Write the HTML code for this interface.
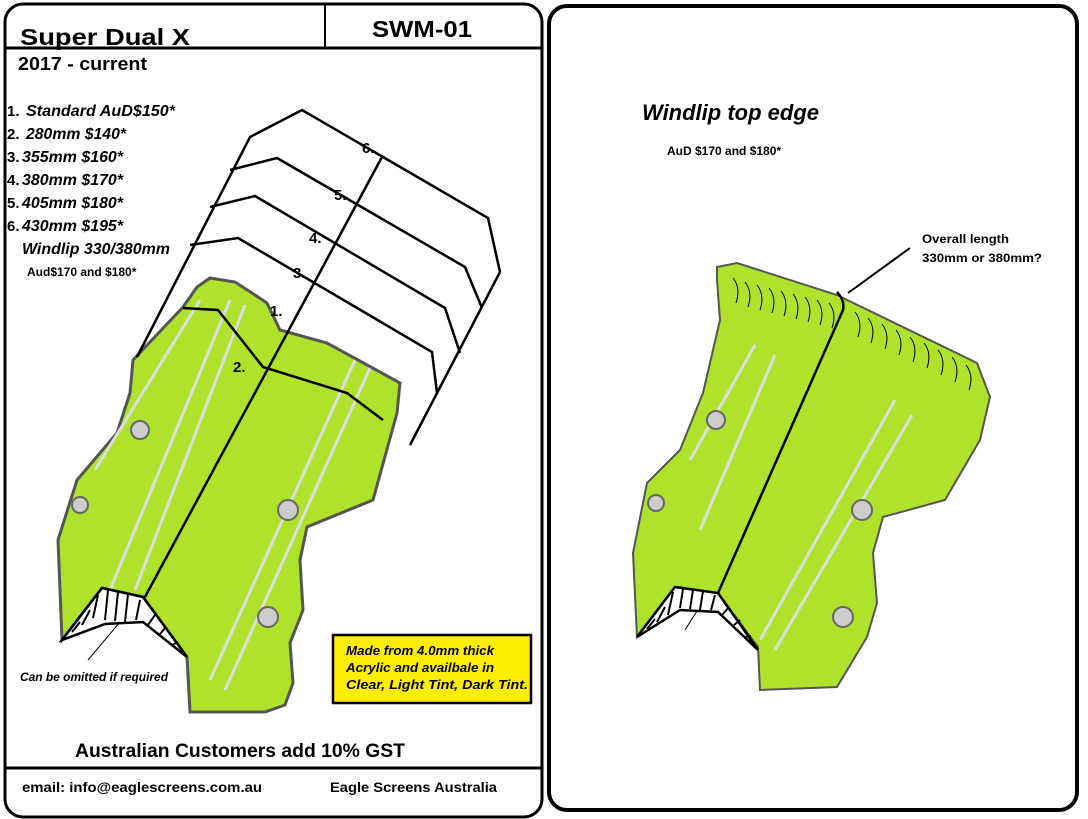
<!DOCTYPE html>
<html><head><meta charset="utf-8"><style>
html,body{margin:0;padding:0;background:#fff;}
svg{display:block}
text{font-family:"Liberation Sans",Arial,sans-serif;font-weight:bold;fill:#000}
.it{font-style:italic}
</style></head><body>
<svg width="1088" height="819" viewBox="0 0 1088 819" xmlns="http://www.w3.org/2000/svg">
<rect x="5" y="4" width="537" height="813" rx="18" fill="#fff" stroke="#000" stroke-width="3"/>
<line x1="5" y1="48" x2="542" y2="48" stroke="#000" stroke-width="3"/>
<line x1="325" y1="4" x2="325" y2="48" stroke="#000" stroke-width="2"/>
<line x1="5" y1="768" x2="542" y2="768" stroke="#000" stroke-width="3"/>
<rect x="549" y="6" width="528" height="804" rx="18" fill="#fff" stroke="#000" stroke-width="4"/>

<text x="20" y="45" font-size="23" textLength="170" lengthAdjust="spacingAndGlyphs">Super Dual X</text>
<text x="372" y="37" font-size="23" textLength="100" lengthAdjust="spacingAndGlyphs">SWM-01</text>
<text x="18" y="70" font-size="18" textLength="129" lengthAdjust="spacingAndGlyphs">2017 - current</text>
<g font-size="16">
<text x="7" y="116" font-size="15" font-weight="normal">1.</text><text x="26" y="116" class="it" textLength="149" lengthAdjust="spacingAndGlyphs">Standard AuD$150*</text>
<text x="7" y="139" font-size="15" font-weight="normal">2.</text><text x="26" y="139" class="it" textLength="100" lengthAdjust="spacingAndGlyphs">280mm $140*</text>
<text x="7" y="162" font-size="15" font-weight="normal">3.</text><text x="22" y="162" class="it" textLength="101" lengthAdjust="spacingAndGlyphs">355mm $160*</text>
<text x="7" y="185" font-size="15" font-weight="normal">4.</text><text x="22" y="185" class="it" textLength="101" lengthAdjust="spacingAndGlyphs">380mm $170*</text>
<text x="7" y="208" font-size="15" font-weight="normal">5.</text><text x="22" y="208" class="it" textLength="101" lengthAdjust="spacingAndGlyphs">405mm $180*</text>
<text x="7" y="231" font-size="15" font-weight="normal">6.</text><text x="22" y="231" class="it" textLength="101" lengthAdjust="spacingAndGlyphs">430mm $195*</text>
<text x="22" y="254" class="it" textLength="148" lengthAdjust="spacingAndGlyphs">Windlip 330/380mm</text>
</g>
<text x="27" y="276" font-size="12">Aud$170 and $180*</text>

<polygon points="210,278 235,282 252,293 267,303 280,330 327,343 400,383 397,413 373,500 307,527 300,560 303,610 290,643 293,683 285,705 265,712 190,712 187,657 143,597 102,588 62,640 58,540 77,480 117,433 130,393 133,360 183,307 197,287" fill="#afe22b" stroke="#555" stroke-width="3"/>
<g stroke="#ddd" stroke-width="3" fill="none">
<line x1="230" y1="300" x2="110" y2="590"/><line x1="245" y1="305" x2="135" y2="590"/>
<line x1="355" y1="360" x2="210" y2="680"/><line x1="370" y1="368" x2="225" y2="690"/>
<line x1="200" y1="300" x2="95" y2="470"/>
</g>
<g fill="#ccc" stroke="#666" stroke-width="2"><circle cx="140" cy="430" r="9"/><circle cx="80" cy="505" r="8"/><circle cx="288" cy="510" r="10"/><circle cx="268" cy="617" r="10"/></g>
<polygon points="62,640 102,588 143,597 187,657 143,622 105,624" fill="#fff" stroke="#000" stroke-width="2.5"/>
<g stroke="#000" stroke-width="2"><line x1="72" y1="632" x2="80" y2="622"/><line x1="82" y1="625" x2="90" y2="610"/><line x1="93" y1="618" x2="98" y2="595"/><line x1="105" y1="620" x2="108" y2="590"/><line x1="115" y1="621" x2="118" y2="592"/><line x1="125" y1="622" x2="128" y2="594"/><line x1="136" y1="620" x2="140" y2="600"/><line x1="148" y1="625" x2="155" y2="615"/><line x1="160" y1="634" x2="166" y2="627"/><line x1="172" y1="645" x2="178" y2="642"/></g>
<line x1="120" y1="622" x2="88" y2="660" stroke="#000" stroke-width="1"/>

<g fill="none" stroke="#000" stroke-width="2.5">
<polyline points="137,357 250,137 302,110 488,218 500,272 410,445"/>
<polyline points="230,170 277,158 465,267 482,308"/>
<polyline points="210,207 255,196 445,308 460,353"/>
<polyline points="190,245 238,238 432,352 437,393"/>
<polyline points="183,308 218,310 263,367 347,393 383,420"/>
<line x1="382" y1="157" x2="145" y2="597"/>
</g>
<g font-size="15"><text x="362" y="153">6.</text><text x="334" y="200">5.</text><text x="309" y="243">4.</text><text x="293" y="278">3.</text><text x="270" y="316">1.</text><text x="233" y="372">2.</text></g>

<text x="20" y="681" font-size="12" class="it" font-weight="normal" textLength="148" lengthAdjust="spacingAndGlyphs">Can be omitted if required</text>
<rect x="333" y="635" width="198" height="68" fill="#ffee00" stroke="#000" stroke-width="2.5"/>
<g font-size="13" class="it"><text x="346" y="655" textLength="148" lengthAdjust="spacingAndGlyphs">Made from 4.0mm thick</text><text x="346" y="672" textLength="148" lengthAdjust="spacingAndGlyphs">Acrylic and availbale in</text><text x="346" y="689" textLength="182" lengthAdjust="spacingAndGlyphs">Clear, Light Tint, Dark Tint.</text></g>
<text x="75" y="757" font-size="19" textLength="330" lengthAdjust="spacingAndGlyphs">Australian Customers add 10% GST</text>
<text x="22" y="792" font-size="14" textLength="240" lengthAdjust="spacingAndGlyphs">email: info@eaglescreens.com.au</text>
<text x="330" y="792" font-size="14" textLength="167" lengthAdjust="spacingAndGlyphs">Eagle Screens Australia</text>

<text x="642" y="120" font-size="22" class="it">Windlip top edge</text>
<text x="667" y="155" font-size="12">AuD $170 and $180*</text>
<text x="922" y="243" font-size="12" textLength="87" lengthAdjust="spacingAndGlyphs">Overall length</text>
<text x="922" y="262" font-size="12" textLength="120" lengthAdjust="spacingAndGlyphs">330mm or 380mm?</text>
<polygon points="717,267 737,263 837,295 977,363 990,397 980,440 945,500 883,517 873,553 877,603 867,637 837,687 760,690 758,647 718,593 675,587 637,637 633,553 647,483 680,450 703,393 720,320 717,280" fill="#afe22b" stroke="#555" stroke-width="2"/>
<g stroke="#ddd" stroke-width="3" fill="none">
<line x1="755" y1="345" x2="690" y2="460"/><line x1="775" y1="355" x2="700" y2="530"/>
<line x1="895" y1="400" x2="760" y2="640"/><line x1="912" y1="415" x2="775" y2="650"/>
</g>
<g fill="#ccc" stroke="#666" stroke-width="2"><circle cx="716" cy="420" r="9"/><circle cx="656" cy="503" r="8"/><circle cx="862" cy="510" r="10"/><circle cx="843" cy="617" r="10"/></g>
<g stroke="#000" stroke-width="1" fill="none">
<path d="M733,278 q8,10 3,25"/><path d="M745,282 q8,10 3,25"/><path d="M757,285 q8,10 3,25"/><path d="M769,288 q8,10 3,25"/><path d="M781,291 q8,10 3,25"/><path d="M793,294 q8,10 3,25"/><path d="M805,297 q8,10 3,25"/><path d="M817,300 q8,10 3,25"/><path d="M829,303 q8,10 3,25"/>
<path d="M855,312 q8,10 3,25"/><path d="M868,318 q8,10 3,25"/><path d="M882,324 q8,10 3,25"/><path d="M896,330 q8,10 3,25"/><path d="M910,337 q8,10 3,25"/><path d="M924,343 q8,10 3,25"/><path d="M938,350 q8,10 3,25"/><path d="M952,357 q8,10 3,25"/><path d="M966,365 q8,10 3,25"/>
</g>
<polygon points="637,637 675,587 718,593 758,650 718,612 680,610" fill="#fff" stroke="#000" stroke-width="2.5"/>
<g stroke="#000" stroke-width="2"><line x1="647" y1="629" x2="655" y2="619"/><line x1="657" y1="622" x2="665" y2="607"/><line x1="668" y1="615" x2="673" y2="592"/><line x1="680" y1="608" x2="683" y2="589"/><line x1="690" y1="609" x2="693" y2="590"/><line x1="700" y1="610" x2="703" y2="591"/><line x1="711" y1="610" x2="715" y2="595"/><line x1="722" y1="615" x2="729" y2="607"/><line x1="734" y1="625" x2="740" y2="620"/><line x1="745" y1="637" x2="751" y2="636"/></g>
<line x1="697" y1="611" x2="685" y2="630" stroke="#000" stroke-width="1"/>
<path d="M718,593 L843,310 Q845,300 837,292" fill="none" stroke="#000" stroke-width="2.5"/>
<line x1="910" y1="248" x2="848" y2="293" stroke="#000" stroke-width="2"/>
</svg>
</body></html>
